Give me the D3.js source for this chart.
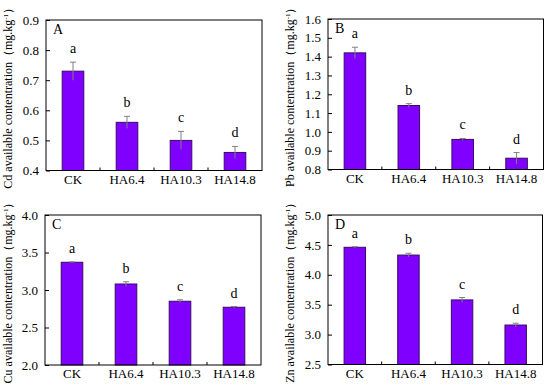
<!DOCTYPE html>
<html>
<head>
<meta charset="utf-8">
<script src="https://cdn.jsdelivr.net/npm/d3@7"></script>
<style>
  html, body { margin: 0; padding: 0; background: #fff; }
  svg { display: block; }
</style>
</head>
<body>
<svg id="chart" width="550" height="386"></svg>
<script>
// ---------- data ----------
const categories = ["CK", "HA6.4", "HA10.3", "HA14.8"];
const sigLetters = ["a", "b", "c", "d"];

const cdMean = [0.73, 0.56, 0.50, 0.46];
const cdErr  = [0.03, 0.02, 0.03, 0.02];
const cdTicks = [0.4, 0.5, 0.6, 0.7, 0.8, 0.9];

const pbMean = [1.42, 1.14, 0.96, 0.86];
const pbErr  = [0.03, 0.01, 0.005, 0.03];
const pbTicks = [0.8, 0.9, 1.0, 1.1, 1.2, 1.3, 1.4, 1.5, 1.6];

const cuMean = [3.37, 3.08, 2.85, 2.77];
const cuErr  = [0.005, 0.03, 0.02, 0.01];
const cuTicks = [2.0, 2.5, 3.0, 3.5, 4.0];

const znMean = [4.46, 4.33, 3.58, 3.16];
const znErr  = [0.01, 0.03, 0.04, 0.03];
const znTicks = [2.5, 3.0, 3.5, 4.0, 4.5, 5.0];

const panelLabels = ["A", "B", "C", "D"];
const elements = ["Cd", "Pb", "Cu", "Zn"];

// ---------- layout ----------
const panels = [
  { mean: cdMean, err: cdErr, ticks: cdTicks, box: { l: 46, r: 262, t: 20, b: 170.5 }, titleX: 12 },
  { mean: pbMean, err: pbErr, ticks: pbTicks, box: { l: 328, r: 543.5, t: 19, b: 169.5 }, titleX: 294 },
  { mean: cuMean, err: cuErr, ticks: cuTicks, box: { l: 45, r: 261, t: 215, b: 365 }, titleX: 12 },
  { mean: znMean, err: znErr, ticks: znTicks, box: { l: 328, r: 542.5, t: 215, b: 364.5 }, titleX: 294 }
];

const svg = d3.select("#chart");
const FONT = "'Liberation Serif', 'Times New Roman', serif";
const barFill = "#7f00ff";
const barStroke = "#3a0a66";
const errColor = "#808080";

panels.forEach((p, i) => {
  const { l, r, t, b } = p.box;
  const g = svg.append("g");

  const x = d3.scaleBand().domain(categories).range([l, r])
    .paddingInner(0.6).paddingOuter(0.3);
  const yDom = d3.extent(p.ticks);
  const y = d3.scaleLinear().domain(yDom).range([b, t]);

  // bars
  g.selectAll("rect.bar").data(categories).join("rect")
    .attr("class", "bar")
    .attr("x", c => x(c))
    .attr("width", x.bandwidth())
    .attr("y", (c, k) => y(p.mean[k]))
    .attr("height", (c, k) => y(yDom[0]) - y(p.mean[k]))
    .attr("fill", barFill)
    .attr("stroke", barStroke)
    .attr("stroke-width", 1);

  // error bars
  const capW = 6;
  categories.forEach((c, k) => {
    const cx = x(c) + x.bandwidth() / 2;
    const y1 = y(p.mean[k] + p.err[k]);
    const y0 = y(p.mean[k] - p.err[k]);
    g.append("line").attr("x1", cx).attr("x2", cx).attr("y1", y1).attr("y2", y0)
      .attr("stroke", errColor).attr("stroke-width", 1);
    g.append("line").attr("x1", cx - capW / 2).attr("x2", cx + capW / 2).attr("y1", y1).attr("y2", y1)
      .attr("stroke", errColor).attr("stroke-width", 1);
    // significance letter
    g.append("text")
      .attr("x", cx).attr("y", y1 - 9)
      .attr("text-anchor", "middle")
      .attr("font-family", FONT).attr("font-size", 14)
      .text(sigLetters[k]);
  });

  // frame
  g.append("rect").attr("x", l).attr("y", t).attr("width", r - l).attr("height", b - t)
    .attr("fill", "none").attr("stroke", "#000").attr("stroke-width", 1);

  // y axis (ticks inward)
  const yAxis = d3.axisLeft(y).tickValues(p.ticks).tickFormat(d3.format(".1f"))
    .tickSizeInner(-4).tickSizeOuter(0).tickPadding(7);
  const ya = g.append("g").attr("transform", `translate(${l},0)`).call(yAxis);
  ya.select(".domain").remove();
  ya.selectAll("text").attr("font-family", FONT).attr("font-size", 13).attr("fill", "#000");
  ya.selectAll("line").attr("stroke", "#000");

  // x axis labels
  const xAxis = d3.axisBottom(x).tickSize(0).tickPadding(4);
  const xa = g.append("g").attr("transform", `translate(0,${b})`).call(xAxis);
  xa.select(".domain").remove();
  xa.selectAll("text").attr("font-family", FONT).attr("font-size", 13).attr("fill", "#000");

  // x minor ticks at category boundaries (inward)
  const step = x.step();
  const bounds = categories.slice(1).map(c => x(c) - step * x.paddingInner() / 2);
  g.selectAll("line.xb").data(bounds).join("line")
    .attr("class", "xb")
    .attr("x1", d => d).attr("x2", d => d)
    .attr("y1", b).attr("y2", b - 3)
    .attr("stroke", "#000").attr("stroke-width", 1);

  // panel label
  g.append("text").attr("x", l + 7).attr("y", t + 13.5)
    .attr("font-family", FONT).attr("font-size", 14)
    .text(panelLabels[i]);

  // y title
  const cy = (t + b) / 2;
  const title = g.append("text")
    .attr("transform", `translate(${p.titleX},${cy}) rotate(-90)`)
    .attr("text-anchor", "middle")
    .attr("font-family", FONT).attr("font-size", 12);
  title.append("tspan").text(elements[i] + " available contentration（mg.kg");
  title.append("tspan").attr("baseline-shift", "super").attr("font-size", 7).text("-1");
  title.append("tspan").text("）");
});
</script>
</body>
</html>
